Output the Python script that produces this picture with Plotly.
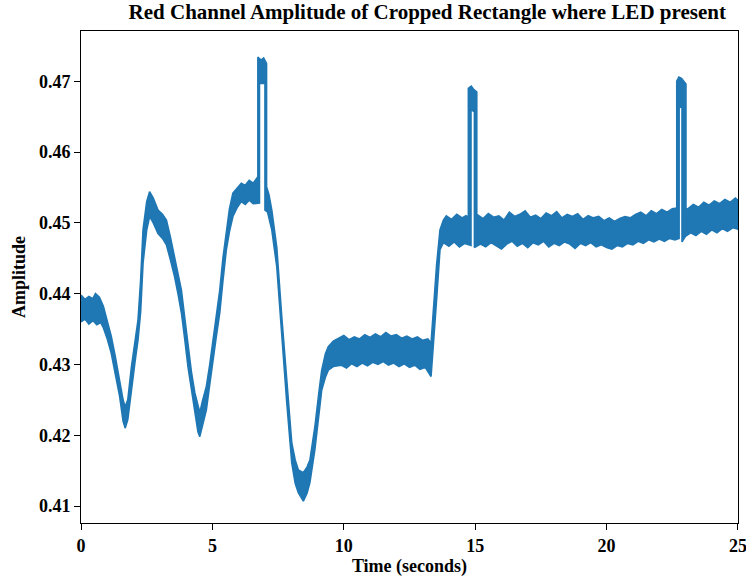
import plotly.graph_objects as go

# ---- Upper envelope of the noisy red-channel trace ----
upper_t = [0.00, 0.15, 0.30, 0.45, 0.55, 0.70, 0.85, 1.00, 1.15, 1.30,
           1.47, 1.60, 1.68, 1.78, 1.92, 2.05, 2.17, 2.27, 2.36, 2.50,
           2.61, 2.75, 2.93, 3.10, 3.25, 3.40, 3.56, 3.70, 3.82, 3.95,
           4.07, 4.20, 4.33, 4.45, 4.52, 4.62, 4.77, 4.90, 5.02, 5.15,
           5.28, 5.40, 5.53, 5.65, 5.78, 5.95, 6.10, 6.25, 6.40, 6.55,
           6.73, 6.73, 6.85, 6.95, 7.06, 7.06, 7.15, 7.26, 7.45, 7.64,
           7.83, 8.02, 8.15, 8.27, 8.46, 8.60, 8.71, 8.90, 9.05, 9.16,
           9.30, 9.41, 9.60, 9.80, 10.0, 10.2, 10.4, 10.6, 10.8, 11.0,
           11.2, 11.4, 11.6, 11.8, 12.0, 12.2, 12.4, 12.6, 12.8, 13.0,
           13.2, 13.32, 13.42, 13.53, 13.66, 13.79, 13.90, 14.10, 14.30, 14.50,
           14.65, 14.74, 14.74, 14.85, 14.95, 15.06, 15.06, 15.1, 15.3, 15.5,
           15.7, 15.9, 16.1, 16.3, 16.5, 16.7, 16.9, 17.1, 17.3, 17.5,
           17.7, 17.9, 18.1, 18.3, 18.5, 18.7, 18.9, 19.1, 19.3, 19.5,
           19.7, 19.9, 20.1, 20.3, 20.5, 20.7, 20.9, 21.1, 21.3, 21.5,
           21.7, 21.9, 22.1, 22.3, 22.5, 22.60, 22.67, 22.67, 22.75, 22.85,
           22.98, 23.02, 23.02, 23.1, 23.3, 23.5, 23.7, 23.9, 24.1, 24.3,
           24.5, 24.7, 24.9, 25.0]
upper_v = [0.4398, 0.4392, 0.4396, 0.4393, 0.4400, 0.4395, 0.4382, 0.4362, 0.4340, 0.4312,
           0.4278, 0.4250, 0.4240, 0.4250, 0.4297, 0.4330, 0.4363, 0.4420, 0.4490, 0.4530,
           0.4544, 0.4535, 0.4518, 0.4512, 0.4504, 0.4480, 0.4452, 0.4430, 0.4405, 0.4365,
           0.4325, 0.4290, 0.4260, 0.4240, 0.4232, 0.4248, 0.4269, 0.4300, 0.4335, 0.4370,
           0.4405, 0.4450, 0.4490, 0.4520, 0.4542, 0.4550, 0.4556, 0.4553, 0.4560, 0.4556,
           0.4565, 0.4734, 0.4730, 0.4733, 0.4725, 0.4551, 0.4540, 0.4518, 0.4465, 0.4367,
           0.4274, 0.4189, 0.4165, 0.4151, 0.4147, 0.4155, 0.4165, 0.4212, 0.4260, 0.4292,
           0.4315, 0.4325, 0.4333, 0.4337, 0.4341, 0.4335, 0.4339, 0.4336, 0.4342, 0.4338,
           0.4343, 0.4339, 0.4345, 0.4340, 0.4342, 0.4337, 0.4340, 0.4336, 0.4339, 0.4334,
           0.4336, 0.4330, 0.4390, 0.4440, 0.4490, 0.4504, 0.4510, 0.4505, 0.4512, 0.4507,
           0.4510, 0.4508, 0.4690, 0.4693, 0.4688, 0.4685, 0.4505, 0.4511, 0.4506, 0.4513,
           0.4508, 0.4510, 0.4504, 0.4515, 0.4509, 0.4512, 0.4517, 0.4508, 0.4511, 0.4506,
           0.4514, 0.4510, 0.4516, 0.4507, 0.4512, 0.4509, 0.4513, 0.4505, 0.4510, 0.4507,
           0.4509, 0.4503, 0.4507, 0.4502, 0.4506, 0.4509, 0.4507, 0.4512, 0.4515, 0.4510,
           0.4517, 0.4513, 0.4519, 0.4515, 0.4520, 0.4521, 0.4521, 0.4700, 0.4706, 0.4704,
           0.4698, 0.4696, 0.4520, 0.4520, 0.4526, 0.4522, 0.4529, 0.4525, 0.4531, 0.4527,
           0.4533, 0.4529, 0.4535, 0.4532]

# ---- Lower envelope of the same trace ----
lower_t = [0.00, 0.15, 0.30, 0.45, 0.60, 0.75, 0.85, 1.00, 1.15, 1.30,
           1.47, 1.60, 1.68, 1.78, 1.92, 2.05, 2.17, 2.27, 2.36, 2.50,
           2.61, 2.75, 2.93, 3.10, 3.25, 3.40, 3.56, 3.70, 3.82, 3.95,
           4.07, 4.20, 4.33, 4.45, 4.52, 4.62, 4.77, 4.90, 5.02, 5.15,
           5.28, 5.40, 5.53, 5.65, 5.78, 5.95, 6.10, 6.25, 6.40, 6.55,
           6.79, 6.79, 7.00, 7.00, 7.10, 7.26, 7.45, 7.64, 7.83, 8.02,
           8.15, 8.27, 8.46, 8.60, 8.71, 8.90, 9.05, 9.16, 9.30, 9.41,
           9.60, 9.90, 10.1, 10.3, 10.5, 10.7, 10.9, 11.1, 11.3, 11.5,
           11.7, 11.9, 12.1, 12.3, 12.5, 12.7, 12.9, 13.1, 13.32, 13.42,
           13.53, 13.66, 13.79, 14.00, 14.20, 14.40, 14.60, 14.84, 14.84, 14.97,
           14.97, 15.2, 15.4, 15.6, 15.8, 16.0, 16.2, 16.4, 16.6, 16.8,
           17.0, 17.2, 17.4, 17.6, 17.8, 18.0, 18.2, 18.4, 18.6, 18.8,
           19.0, 19.2, 19.4, 19.6, 19.8, 20.0, 20.2, 20.4, 20.6, 20.8,
           21.0, 21.2, 21.4, 21.6, 21.8, 22.0, 22.2, 22.4, 22.6, 22.76,
           22.76, 22.87, 22.87, 23.0, 23.2, 23.4, 23.6, 23.8, 24.0, 24.2,
           24.4, 24.6, 24.8, 25.0]
lower_v = [0.4360, 0.4364, 0.4357, 0.4362, 0.4356, 0.4359, 0.4352, 0.4336, 0.4316, 0.4286,
           0.4255, 0.4220, 0.4210, 0.4222, 0.4262, 0.4302, 0.4335, 0.4375, 0.4443, 0.4490,
           0.4509, 0.4500, 0.4485, 0.4478, 0.4469, 0.4448, 0.4424, 0.4398, 0.4373, 0.4335,
           0.4297, 0.4262, 0.4232, 0.4205, 0.4198, 0.4214, 0.4236, 0.4272, 0.4307, 0.4340,
           0.4373, 0.4418, 0.4462, 0.4488, 0.4509, 0.4522, 0.4530, 0.4526, 0.4532, 0.4527,
           0.4528, 0.4697, 0.4697, 0.4518, 0.4515, 0.4490, 0.4438, 0.4340, 0.4246, 0.4161,
           0.4132, 0.4119, 0.4107, 0.4118, 0.4133, 0.4180, 0.4225, 0.4264, 0.4282, 0.4292,
           0.4297, 0.4299, 0.4295, 0.4301, 0.4297, 0.4302, 0.4298, 0.4303, 0.4300, 0.4304,
           0.4299, 0.4302, 0.4297, 0.4301, 0.4296, 0.4299, 0.4293, 0.4296, 0.4283, 0.4330,
           0.4391, 0.4462, 0.4472, 0.4467, 0.4473, 0.4466, 0.4471, 0.4468, 0.4660, 0.4657,
           0.4465, 0.4470, 0.4466, 0.4472, 0.4468, 0.4463, 0.4470, 0.4474, 0.4467, 0.4471,
           0.4465, 0.4472, 0.4469, 0.4474, 0.4466, 0.4471, 0.4468, 0.4473, 0.4470, 0.4464,
           0.4471, 0.4468, 0.4472, 0.4466, 0.4469, 0.4465, 0.4463, 0.4468, 0.4466, 0.4471,
           0.4469, 0.4474, 0.4471, 0.4476, 0.4473, 0.4477, 0.4474, 0.4478, 0.4476, 0.4478,
           0.4662, 0.4665, 0.4473, 0.4481, 0.4486, 0.4482, 0.4488, 0.4484, 0.4490, 0.4486,
           0.4492, 0.4488, 0.4493, 0.4491]

assert len(upper_t) == len(upper_v), (len(upper_t), len(upper_v))
assert len(lower_t) == len(lower_v), (len(lower_t), len(lower_v))

x_ticks = [0, 5, 10, 15, 20, 25]
y_ticks = [0.41, 0.42, 0.43, 0.44, 0.45, 0.46, 0.47]
y_tick_text = ["0.41", "0.42", "0.43", "0.44", "0.45", "0.46", "0.47"]

BLUE = "#1f77b4"
FONT = "Liberation Serif"

fig = go.Figure()
fig.add_trace(go.Scatter(
    x=upper_t + lower_t[::-1],
    y=upper_v + lower_v[::-1],
    mode="lines",
    fill="toself",
    fillcolor=BLUE,
    line=dict(color=BLUE, width=1.6),
    hoverinfo="skip",
    showlegend=False,
))

axis_common = dict(
    showline=True, linecolor="black", linewidth=1, mirror=True,
    ticks="outside", ticklen=6, tickwidth=1, tickcolor="black",
    showgrid=False, zeroline=False, ticklabeloverflow="allow", automargin=False,
    tickfont=dict(family=FONT, size=18, color="black", weight="bold"),
)
title_font = dict(family=FONT, size=18, color="black", weight="bold")

fig.update_layout(
    width=746, height=581,
    margin=dict(l=81, r=8, t=31, b=58, autoexpand=False),
    paper_bgcolor="white", plot_bgcolor="white",
    title=dict(
        text="Red Channel Amplitude of Cropped Rectangle where LED present",
        font=dict(family=FONT, size=21, color="black", weight="bold"),
        x=0.527, xref="paper", xanchor="center",
        y=1, yref="container", yanchor="top", pad=dict(t=4),
    ),
    xaxis=dict(range=[-0.0005, 25.0005], tickvals=x_ticks, **axis_common,
               title=dict(text="Time (seconds)", standoff=4, font=title_font)),
    yaxis=dict(range=[0.4076, 0.4771], tickvals=y_ticks, ticktext=y_tick_text, **axis_common,
               title=dict(text="Amplitude", standoff=8, font=title_font)),
)

fig.write_html("out.html")
